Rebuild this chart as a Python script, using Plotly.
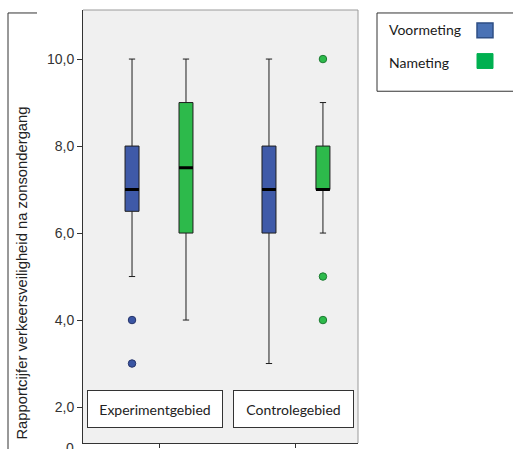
import plotly.graph_objects as go

# ---------------- data ----------------
categories = ["Experimentgebied", "Controlegebied"]
series_names = ["Voormeting", "Nameting"]

voor_q1 = [6.5, 6.0]
voor_median = [7.0, 7.0]
voor_q3 = [8.0, 8.0]
voor_lower = [5.0, 3.0]
voor_upper = [10.0, 10.0]
voor_outliers = [[4.0, 3.0], []]

na_q1 = [6.0, 7.0]
na_median = [7.5, 7.0]
na_q3 = [9.0, 8.0]
na_lower = [4.0, 6.0]
na_upper = [10.0, 9.0]
na_outliers = [[], [10.0, 5.0, 4.0]]

y_tickvals = [2, 4, 6, 8, 10]
y_ticktext = ["2,0", "4,0", "6,0", "8,0", "10,0"]
y_title = "Rapportcijfer verkeersveiligheid na zonsondergang"

# ---------------- styles ----------------
W, H = 513, 449
L, R, T, B = 83, 358, 10, 447
pw, ph = R - L, B - T

def px(x):
    return (x - L) / pw

def py(y):
    return (B - y) / ph

blue_fill = "#3F5AA8"
green_fill = "#2DBA4B"
blue_pt = "#3A55A3"
green_pt = "#2DBA4B"
legend_blue = "#4A72B5"
legend_green = "#00B050"
box_line = "#1E1E1E"

fig = go.Figure()

specs = [
    (series_names[0], "voor", voor_q1, voor_median, voor_q3, voor_lower, voor_upper, voor_outliers, blue_fill, blue_pt, "#26346a"),
    (series_names[1], "na", na_q1, na_median, na_q3, na_lower, na_upper, na_outliers, green_fill, green_pt, "#1d7a32"),
]

for name, grp, q1, med, q3, lo, hi, outs, fill, ptc, ptl in specs:
    fig.add_trace(go.Box(
        name=name, x=categories,
        q1=q1, median=med, q3=q3, lowerfence=lo, upperfence=hi,
        offsetgroup=grp, fillcolor=fill,
        line=dict(color=box_line, width=1),
        whiskerwidth=0.45, boxpoints=False,
        showlegend=False, hoverinfo="skip",
    ))

for name, grp, q1, med, q3, lo, hi, outs, fill, ptc, ptl in specs:
    fig.add_trace(go.Box(
        name=name + " mediaan", x=categories,
        q1=med, median=med, q3=med, lowerfence=med, upperfence=med,
        offsetgroup=grp, fillcolor="rgba(0,0,0,0)",
        line=dict(color="#000000", width=3),
        whiskerwidth=0, boxpoints=False,
        showlegend=False, hoverinfo="skip",
    ))

for name, grp, q1, med, q3, lo, hi, outs, fill, ptc, ptl in specs:
    ox, oy = [], []
    for cat, vals in zip(categories, outs):
        for v in vals:
            ox.append(cat)
            oy.append(v)
    fig.add_trace(go.Scatter(
        name=name + " uitschieters", x=ox, y=oy, mode="markers",
        offsetgroup=grp,
        marker=dict(color=ptc, size=7.5, line=dict(color=ptl, width=1)),
        showlegend=False, hoverinfo="skip",
    ))

shapes = []
shapes.append(dict(type="line", xref="paper", yref="paper", x0=0, x1=1, y0=1, y1=1,
                   line=dict(color="#9A9A9A", width=1)))
shapes.append(dict(type="line", xref="paper", yref="paper", x0=1, x1=1, y0=0, y1=1,
                   line=dict(color="#9A9A9A", width=1)))
shapes.append(dict(type="line", xref="paper", yref="paper", x0=px(8), x1=px(37), y0=py(13), y1=py(13),
                   line=dict(color="#333333", width=1)))
shapes.append(dict(type="line", xref="paper", yref="paper", x0=px(8), x1=px(8), y0=py(13), y1=py(460),
                   line=dict(color="#333333", width=1)))
shapes.append(dict(type="rect", xref="paper", yref="paper", x0=px(377), x1=px(530), y0=py(92), y1=py(13),
                   line=dict(color="#333333", width=1), fillcolor="white"))
shapes.append(dict(type="rect", xref="paper", yref="paper", x0=px(477), x1=px(493), y0=py(38), y1=py(23),
                   line=dict(color="#2F4F85", width=1.5), fillcolor=legend_blue))
shapes.append(dict(type="rect", xref="paper", yref="paper", x0=px(477), x1=px(493), y0=py(69), y1=py(54),
                   line=dict(color=legend_green, width=1), fillcolor=legend_green))

annotations = []
cat_font = dict(family="Lato", size=14, color="#222222")
box_widths = [134, 119]
box_shifts = [-4, -2.5]
for cat, bw, sh in zip(categories, box_widths, box_shifts):
    annotations.append(dict(
        text=cat, x=cat, xref="x", y=py(413), yref="paper",
        xanchor="center", yanchor="middle", xshift=sh,
        width=bw, height=36, showarrow=False,
        bordercolor="#333333", borderwidth=1, borderpad=0, bgcolor="white",
        font=cat_font,
    ))

annotations.append(dict(text=series_names[0], x=px(387), y=py(30), xref="paper", yref="paper",
                        xanchor="left", yanchor="middle", showarrow=False,
                        font=dict(family="Lato", size=14, color="#1a1a1a")))
annotations.append(dict(text=series_names[1], x=px(387), y=py(63), xref="paper", yref="paper",
                        xanchor="left", yanchor="middle", showarrow=False,
                        font=dict(family="Lato", size=14, color="#1a1a1a")))

annotations.append(dict(text=y_title, x=px(22), y=py(276), xref="paper", yref="paper",
                        xanchor="center", yanchor="middle", textangle=-90, showarrow=False,
                        font=dict(family="Liberation Sans", size=14.8, color="#222222")))

annotations.append(dict(text="0", x=px(76), y=py(442), xref="paper", yref="paper",
                        xanchor="right", yanchor="top", showarrow=False,
                        font=dict(family="Liberation Sans", size=14, color="#333333")))

fig.update_layout(
    width=W, height=H,
    margin=dict(l=L, r=W - R, t=T, b=H - B, pad=0),
    paper_bgcolor="white", plot_bgcolor="#F0F0F0",
    boxmode="group", boxgap=0.212, boxgroupgap=0.741,
    scattermode="group", scattergap=0.212,
    showlegend=False,
    shapes=shapes, annotations=annotations,
    xaxis=dict(type="category", categoryorder="array", categoryarray=categories,
               range=[-0.555, 1.453], showticklabels=False,
               ticks="outside", ticklen=4, tickcolor="#333333",
               showline=True, linecolor="#333333", linewidth=1,
               showgrid=False, zeroline=False, fixedrange=True),
    yaxis=dict(range=[1.173, 11.128], tickvals=y_tickvals, ticktext=y_ticktext,
               ticks="outside", ticklen=5, tickcolor="#333333",
               tickfont=dict(family="Liberation Sans", size=14, color="#333333"),
               showline=True, linecolor="#333333", linewidth=1,
               showgrid=False, zeroline=False, fixedrange=True),
)

fig.write_html("out.html")
